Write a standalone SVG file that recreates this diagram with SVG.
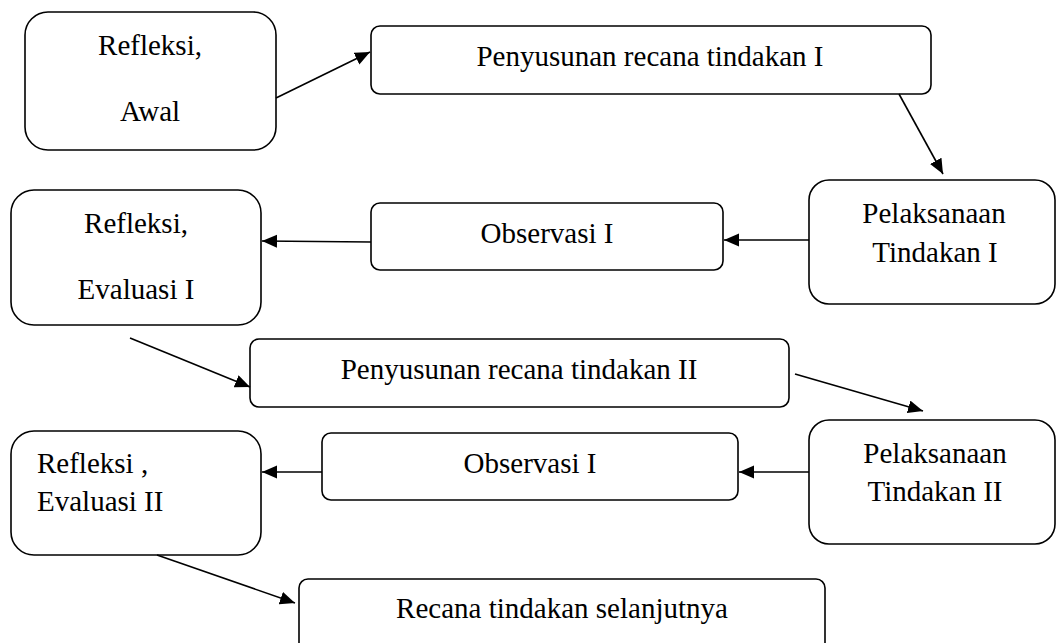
<svg xmlns="http://www.w3.org/2000/svg" width="1056" height="643" viewBox="0 0 1056 643">
<style>
.box{fill:#fff;stroke:#000;stroke-width:1.6}
.t{font-family:"Liberation Serif","Times New Roman",serif;font-size:29px;fill:#000}
.c{text-anchor:middle}
.con line{stroke:#000;stroke-width:1.6}
</style>
<defs>
<marker id="ah" markerUnits="userSpaceOnUse" markerWidth="16" markerHeight="14" refX="15" refY="6.5" orient="auto">
<path d="M0,0 L15,6.5 L0,13 Z" fill="#000"/>
</marker>
</defs>
<rect width="1056" height="643" fill="#fff"/>
<g id="n1">
<rect class="box" x="25" y="12" width="251" height="138" rx="23"/>
<text class="t c" x="150" y="55">Refleksi,</text>
<text class="t c" x="150" y="121">Awal</text>
</g>
<g id="n2">
<rect class="box" x="371" y="26" width="560" height="68" rx="9"/>
<text class="t c" x="650" y="66">Penyusunan recana tindakan I</text>
</g>
<g id="n3">
<rect class="box" x="809" y="180" width="246" height="124" rx="20"/>
<text class="t c" x="934" y="223">Pelaksanaan</text>
<text class="t c" x="935" y="262">Tindakan I</text>
</g>
<g id="n4">
<rect class="box" x="371" y="203" width="352" height="67" rx="9"/>
<text class="t c" x="547" y="243">Observasi I</text>
</g>
<g id="n5">
<rect class="box" x="11" y="190" width="250" height="135" rx="23"/>
<text class="t c" x="136" y="233">Refleksi,</text>
<text class="t c" x="136" y="299">Evaluasi I</text>
</g>
<g id="n6">
<rect class="box" x="250" y="339" width="539" height="68" rx="9"/>
<text class="t c" x="519" y="379">Penyusunan recana tindakan II</text>
</g>
<g id="n7">
<rect class="box" x="809" y="420" width="246" height="124" rx="20"/>
<text class="t c" x="935" y="463">Pelaksanaan</text>
<text class="t c" x="935" y="501">Tindakan II</text>
</g>
<g id="n8">
<rect class="box" x="322" y="433" width="416" height="67" rx="9"/>
<text class="t c" x="530" y="473">Observasi I</text>
</g>
<g id="n9">
<rect class="box" x="11" y="431" width="250" height="124" rx="23"/>
<text class="t" x="37" y="473">Refleksi ,</text>
<text class="t" x="37" y="511">Evaluasi II</text>
</g>
<g id="n10">
<rect class="box" x="299" y="579" width="526" height="80" rx="9"/>
<text class="t c" x="562" y="618">Recana tindakan selanjutnya</text>
</g>
<g id="connectors" class="con">
<line x1="276" y1="98" x2="370" y2="52" marker-end="url(#ah)"/>
<line x1="899" y1="94" x2="943" y2="174" marker-end="url(#ah)"/>
<line x1="809" y1="240" x2="724" y2="240" marker-end="url(#ah)"/>
<line x1="371" y1="242" x2="262" y2="241" marker-end="url(#ah)"/>
<line x1="130" y1="338" x2="250" y2="387" marker-end="url(#ah)"/>
<line x1="795" y1="374" x2="923" y2="411" marker-end="url(#ah)"/>
<line x1="809" y1="472" x2="739" y2="472" marker-end="url(#ah)"/>
<line x1="322" y1="472" x2="262" y2="472" marker-end="url(#ah)"/>
<line x1="157" y1="555" x2="295" y2="603" marker-end="url(#ah)"/>
</g>
</svg>
